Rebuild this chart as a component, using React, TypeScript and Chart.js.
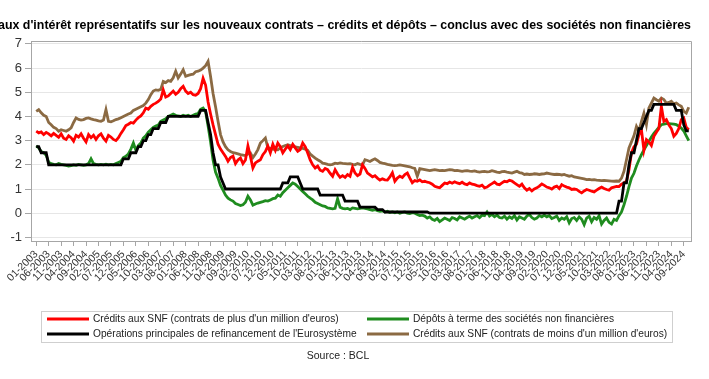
import { useEffect, useRef } from 'react';
import { Chart, registerables } from 'chart.js';

Chart.register(...registerables);

const titleText =
  "Taux d'intérêt représentatifs sur les nouveaux contrats – crédits et dépôts – conclus avec des sociétés non financières";
const sourceText = 'Source : BCL';

// monthly categories 01-2003 .. 11-2024
const months: string[] = [];
for (let y = 2003; y <= 2024; y++) {
  for (let m = 1; m <= 12; m++) {
    if (y === 2024 && m > 11) break;
    months.push(`${m < 10 ? '0' + m : m}-${y}`);
  }
}

const xTickLabels = [
  '01-2003', '06-2003', '11-2003', '04-2004', '09-2004', '02-2005', '07-2005', '12-2005',
  '05-2006', '10-2006', '03-2007', '08-2007', '01-2008', '06-2008', '11-2008', '04-2009',
  '09-2009', '02-2010', '07-2010', '12-2010', '05-2011', '10-2011', '03-2012', '08-2012',
  '01-2013', '06-2013', '11-2013', '04-2014', '09-2014', '02-2015', '07-2015', '12-2015',
  '05-2016', '10-2016', '03-2017', '08-2017', '01-2018', '06-2018', '11-2018', '04-2019',
  '09-2019', '02-2020', '07-2020', '12-2020', '05-2021', '10-2021', '03-2022', '08-2022',
  '01-2023', '06-2023', '11-2023', '04-2024', '09-2024',
];
const yTickValues = [-1, 0, 1, 2, 3, 4, 5, 6, 7];

const seriesLabels = [
  "Crédits aux SNF (contrats de plus d'un million d'euros)",
  'Dépôts à terme des sociétés non financières',
  "Opérations principales de refinancement de l'Eurosystème",
  "Crédits aux SNF (contrats de moins d'un million d'euros)",
];

const creditsPlus1M = [
  3.39, 3.32, 3.36, 3.25, 3.34, 3.28, 3.20, 3.30, 3.22, 3.14, 3.28, 3.10,
  3.05, 3.20, 3.12, 2.98, 3.22, 3.15, 3.28, 3.10, 2.95, 3.25, 3.12, 3.22,
  3.05, 3.20, 3.28, 3.10, 2.98, 3.22, 3.15, 3.05, 3.00, 3.12, 3.30, 3.45,
  3.62, 3.68, 3.75, 3.72, 3.85, 3.95, 4.02, 4.15, 4.35, 4.30, 4.42, 4.50,
  4.55, 4.62, 4.72, 5.10, 4.80, 4.85, 4.95, 5.05, 4.92, 5.00, 5.15, 5.25,
  5.05, 4.95, 5.00, 4.90, 4.88, 4.95, 5.15, 5.58, 5.30, 4.60, 4.10, 3.65,
  3.25, 2.85, 2.65, 2.50, 2.35, 2.15, 2.30, 2.36, 2.05, 2.20, 2.28, 2.05,
  2.20, 2.78, 2.35, 1.87, 2.08, 2.15, 2.21, 2.42, 2.55, 2.78, 2.50, 2.85,
  2.60, 2.90, 2.75, 2.50, 2.65, 2.78, 2.63, 2.85, 2.70, 2.56, 2.63, 2.90,
  2.75, 2.49, 2.20, 2.00, 1.87, 1.95, 1.78, 1.73, 1.85, 1.80, 1.65, 1.53,
  1.80, 1.62, 1.48, 1.55, 1.48, 1.60, 1.53, 1.90, 1.66, 1.55, 1.62, 2.00,
  1.85, 1.66, 1.58, 1.50, 1.55, 1.45, 1.37, 1.42, 1.38, 1.37, 1.50, 1.67,
  1.32, 1.45, 1.53, 1.48, 1.60, 1.66, 1.45, 1.26, 1.35, 1.32, 1.38, 1.30,
  1.32, 1.28, 1.26, 1.20, 1.11, 1.08, 1.05, 1.15, 1.25, 1.22, 1.29, 1.24,
  1.30, 1.25, 1.22, 1.28, 1.21, 1.18, 1.25, 1.20, 1.18, 1.14, 1.11, 1.16,
  1.05, 1.08, 1.16, 1.22, 1.29, 1.20, 1.18, 1.25, 1.32, 1.30, 1.36, 1.33,
  1.25, 1.18, 1.11, 1.20, 1.05, 0.95, 1.02, 0.92, 1.00, 1.05, 1.12, 1.21,
  1.15, 1.08, 1.05, 1.00, 1.08, 1.12, 1.02, 1.18, 1.12, 1.08, 1.05, 0.98,
  1.00, 0.98, 0.90, 0.84, 0.92, 0.98, 0.95, 0.91, 0.88, 0.95, 1.02, 1.08,
  1.02, 0.98, 0.95, 1.05, 1.08, 1.11, 1.10, 1.20, 1.25, 1.32, 1.80, 2.50,
  2.75, 2.85, 3.25, 3.45, 2.60, 3.04, 2.95, 2.80, 3.18, 3.35, 3.50, 4.42,
  3.80, 3.87, 3.65, 3.50, 3.18, 3.30, 3.50, 3.87, 3.94, 3.55, 3.45,
];

const depotsTerme = [
  2.78, 2.70, 2.55, 2.50, 2.40, 2.10, 2.05, 2.02, 2.00, 2.05, 2.02, 2.00,
  1.98, 1.95, 1.97, 2.00, 1.98, 2.02, 2.00, 1.98, 2.00, 2.05, 2.25, 2.05,
  2.02, 2.00, 2.02, 2.00, 2.03, 2.00, 2.02, 2.00, 2.05, 2.10, 2.15, 2.30,
  2.35, 2.45, 2.65, 2.90, 2.60, 2.80, 2.90, 3.10, 3.20, 3.35, 3.45, 3.55,
  3.60, 3.65, 3.80, 3.85, 3.90, 4.00, 4.05, 4.10, 4.05, 4.02, 4.00, 4.05,
  4.02, 4.05, 4.00, 4.05, 4.10, 4.12, 4.30, 4.35, 4.20, 3.60, 2.95, 2.20,
  1.70, 1.45, 1.15, 0.95, 0.75, 0.62, 0.55, 0.50, 0.40, 0.36, 0.32, 0.35,
  0.45, 0.70, 0.55, 0.33, 0.38, 0.42, 0.45, 0.48, 0.52, 0.50, 0.55, 0.60,
  0.62, 0.75, 0.70, 0.85, 0.95, 1.05, 1.15, 1.25, 1.20, 1.10, 1.00, 0.90,
  0.80, 0.70, 0.62, 0.55, 0.45, 0.40, 0.35, 0.30, 0.28, 0.22, 0.20, 0.18,
  0.20, 0.60, 0.25, 0.20, 0.18, 0.20, 0.15, 0.22, 0.20, 0.18, 0.20, 0.22,
  0.20, 0.18, 0.15, 0.12, 0.15, 0.10, 0.08, 0.10, 0.05, 0.08, 0.03, 0.05,
  0.02, 0.05, 0.00, 0.03, 0.05, 0.00, -0.02, 0.02, 0.00, -0.05, -0.10, -0.08,
  -0.12, -0.20, -0.15, -0.25, -0.30, -0.22, -0.35, -0.28, -0.20, -0.25, -0.30, -0.18,
  -0.22, -0.28, -0.15, -0.20, -0.25, -0.18, -0.12, -0.20, -0.15, -0.10, -0.18, -0.08,
  -0.10, 0.05, -0.12, -0.05, -0.15, -0.08, -0.18, -0.20, -0.12, -0.25, -0.15, -0.22,
  -0.10, -0.28, -0.15, -0.20, -0.25, -0.12, -0.05, -0.18, -0.25, -0.20, -0.10, -0.15,
  -0.08, -0.15, -0.10, -0.22, -0.18, -0.12, -0.30, -0.20, -0.25, -0.15, -0.40, -0.22,
  -0.18, -0.30, -0.15, -0.25, -0.47, -0.20, -0.12, -0.35, -0.18, -0.25, -0.10, -0.45,
  -0.30, -0.20, -0.38, -0.45, -0.25, -0.30, -0.10, 0.05, 0.35, 0.70, 1.10, 1.45,
  1.65, 1.95, 2.20, 2.42, 2.62, 2.80, 2.97, 3.15, 3.30, 3.42, 3.55, 3.66,
  3.68, 3.70, 3.70, 3.69, 3.68, 3.66, 3.60, 3.52, 3.40, 3.20, 3.00,
];

const tauxRefi = [
  2.75, 2.75, 2.50, 2.50, 2.50, 2.00, 2.00, 2.00, 2.00, 2.00, 2.00, 2.00,
  2.00, 2.00, 2.00, 2.00, 2.00, 2.00, 2.00, 2.00, 2.00, 2.00, 2.00, 2.00,
  2.00, 2.00, 2.00, 2.00, 2.00, 2.00, 2.00, 2.00, 2.00, 2.00, 2.00, 2.25,
  2.25, 2.25, 2.50, 2.50, 2.50, 2.75, 2.75, 3.00, 3.00, 3.25, 3.25, 3.50,
  3.50, 3.50, 3.75, 3.75, 3.75, 4.00, 4.00, 4.00, 4.00, 4.00, 4.00, 4.00,
  4.00, 4.00, 4.00, 4.00, 4.00, 4.00, 4.25, 4.25, 4.25, 3.75, 3.25, 2.50,
  2.00, 2.00, 1.50, 1.25, 1.00, 1.00, 1.00, 1.00, 1.00, 1.00, 1.00, 1.00,
  1.00, 1.00, 1.00, 1.00, 1.00, 1.00, 1.00, 1.00, 1.00, 1.00, 1.00, 1.00,
  1.00, 1.00, 1.00, 1.25, 1.25, 1.25, 1.50, 1.50, 1.50, 1.50, 1.25, 1.00,
  1.00, 1.00, 1.00, 1.00, 1.00, 1.00, 0.75, 0.75, 0.75, 0.75, 0.75, 0.75,
  0.75, 0.75, 0.75, 0.75, 0.50, 0.50, 0.50, 0.50, 0.50, 0.50, 0.25, 0.25,
  0.25, 0.25, 0.25, 0.25, 0.25, 0.15, 0.15, 0.15, 0.05, 0.05, 0.05, 0.05,
  0.05, 0.05, 0.05, 0.05, 0.05, 0.05, 0.05, 0.05, 0.05, 0.05, 0.05, 0.05,
  0.05, 0.05, 0.00, 0.00, 0.00, 0.00, 0.00, 0.00, 0.00, 0.00, 0.00, 0.00,
  0.00, 0.00, 0.00, 0.00, 0.00, 0.00, 0.00, 0.00, 0.00, 0.00, 0.00, 0.00,
  0.00, 0.00, 0.00, 0.00, 0.00, 0.00, 0.00, 0.00, 0.00, 0.00, 0.00, 0.00,
  0.00, 0.00, 0.00, 0.00, 0.00, 0.00, 0.00, 0.00, 0.00, 0.00, 0.00, 0.00,
  0.00, 0.00, 0.00, 0.00, 0.00, 0.00, 0.00, 0.00, 0.00, 0.00, 0.00, 0.00,
  0.00, 0.00, 0.00, 0.00, 0.00, 0.00, 0.00, 0.00, 0.00, 0.00, 0.00, 0.00,
  0.00, 0.00, 0.00, 0.00, 0.00, 0.00, 0.50, 0.50, 1.25, 1.25, 2.00, 2.50,
  2.50, 3.00, 3.50, 3.50, 3.75, 4.00, 4.25, 4.25, 4.50, 4.50, 4.50, 4.50,
  4.50, 4.50, 4.50, 4.50, 4.50, 4.25, 4.25, 4.25, 3.65, 3.40, 3.40,
];

const creditsMoins1M = [
  4.21, 4.28, 4.15, 4.05, 4.00, 3.75, 3.66, 3.55, 3.50, 3.39, 3.45, 3.42,
  3.39, 3.45, 3.53, 3.75, 3.94, 3.88, 3.85, 3.87, 3.92, 3.94, 3.90, 3.87,
  3.85, 3.82, 3.80, 3.85, 4.28, 3.80, 3.78, 3.82, 3.87, 3.90, 3.95, 4.00,
  4.05, 4.10, 4.14, 4.25, 4.30, 4.35, 4.40, 4.45, 4.55, 4.70, 4.90, 5.05,
  5.10, 5.08, 5.12, 5.45, 5.40, 5.48, 5.45, 5.60, 5.87, 5.59, 5.75, 5.93,
  5.66, 5.70, 5.73, 5.75, 5.85, 5.87, 5.92, 6.00, 6.10, 6.28, 5.65, 4.95,
  4.40, 3.80, 3.25, 2.95, 2.75, 2.62, 2.55, 2.50, 2.48, 2.45, 2.42, 2.40,
  2.38, 2.45, 2.49, 2.30, 2.45, 2.63, 2.90, 3.00, 3.11, 2.70, 2.68, 2.65,
  2.63, 2.62, 2.70, 2.76, 2.80, 2.83, 2.80, 2.76, 2.74, 2.72, 2.70, 2.68,
  2.65, 2.60, 2.45, 2.36, 2.28, 2.21, 2.15, 2.07, 2.05, 2.02, 2.00, 2.02,
  2.07, 2.05, 2.08, 2.06, 2.05, 2.04, 2.05, 2.02, 2.00, 2.05, 2.02, 2.00,
  2.21, 2.18, 2.14, 2.20, 2.25, 2.18, 2.10, 2.07, 2.05, 2.02, 2.00, 1.98,
  1.97, 1.98, 2.00, 1.98, 1.96, 1.94, 1.92, 1.88, 1.85, 1.53, 1.84, 1.82,
  1.80, 1.78, 1.76, 1.78, 1.80, 1.78, 1.76, 1.77, 1.76, 1.78, 1.80, 1.79,
  1.76, 1.77, 1.75, 1.73, 1.75, 1.76, 1.74, 1.73, 1.75, 1.72, 1.70, 1.72,
  1.73, 1.71, 1.72, 1.76, 1.73, 1.70, 1.68, 1.72, 1.73, 1.70, 1.68, 1.66,
  1.70, 1.73, 1.68, 1.66, 1.60, 1.62, 1.60, 1.61, 1.63, 1.62, 1.60, 1.62,
  1.63, 1.66, 1.64, 1.62, 1.60, 1.61, 1.60, 1.58, 1.60, 1.56, 1.53, 1.55,
  1.50, 1.48, 1.46, 1.44, 1.42, 1.39, 1.40, 1.38, 1.39, 1.37, 1.36, 1.35,
  1.36, 1.35, 1.34, 1.33, 1.32, 1.33, 1.32, 1.45, 1.73, 2.21, 2.70, 2.95,
  3.20, 3.59, 3.39, 3.80, 4.14, 3.66, 4.35, 4.55, 4.76, 4.69, 4.63, 4.76,
  4.70, 4.55, 4.58, 4.63, 4.52, 4.55, 4.48, 4.42, 4.21, 4.14, 4.38,
];

const seriesColors = ['#ff0000', '#1f8c1f', '#000000', '#8b6a43'];
const seriesValues = [creditsPlus1M, depotsTerme, tauxRefi, creditsMoins1M];
const drawOrder = [1, 2, 0, 3];

const FONT = "'Liberation Sans', Arial, sans-serif";

const framePlugin = {
  id: 'frame',
  afterDatasetsDraw(chart: any) {
    const { ctx, chartArea } = chart;
    ctx.save();
    ctx.strokeStyle = '#a6a6a6';
    ctx.lineWidth = 1;
    ctx.beginPath();
    ctx.moveTo(chartArea.left, chartArea.top + 0.5);
    ctx.lineTo(chartArea.right + 0.5, chartArea.top + 0.5);
    ctx.lineTo(chartArea.right + 0.5, chartArea.bottom);
    ctx.stroke();
    ctx.restore();
  },
};

// title drawn without width squeezing so it overflows on the left like the original
const titlePlugin = {
  id: 'wideTitle',
  afterDraw(chart: any) {
    const ctx = chart.ctx;
    ctx.save();
    ctx.fillStyle = '#000';
    ctx.font = `bold 12.4px ${FONT}`;
    ctx.textAlign = 'right';
    ctx.textBaseline = 'middle';
    ctx.fillText(titleText, chart.chartArea.right, 26);
    ctx.restore();
  },
};

const legendPlugin = {
  id: 'boxLegend',
  afterDraw(chart: any) {
    const ctx = chart.ctx;
    ctx.save();
    ctx.strokeStyle = '#cfcfcf';
    ctx.lineWidth = 1;
    ctx.strokeRect(41.5, 311.5, 631, 31);
    const cols = [47, 367];
    const rows = [319, 334];
    chart.data.datasets.forEach((d: any, k: number) => {
      const cx = cols[k % 2];
      const cy = rows[Math.floor(k / 2)];
      ctx.strokeStyle = d.borderColor;
      ctx.lineWidth = 3;
      ctx.beginPath();
      ctx.moveTo(cx, cy);
      ctx.lineTo(cx + 42, cy);
      ctx.stroke();
      ctx.fillStyle = '#222';
      ctx.font = `10.2px ${FONT}`;
      ctx.textBaseline = 'middle';
      ctx.textAlign = 'left';
      ctx.fillText(d.label, cx + 46, cy);
    });
    ctx.fillStyle = '#222';
    ctx.font = `10.5px ${FONT}`;
    ctx.textAlign = 'center';
    ctx.textBaseline = 'middle';
    ctx.fillText(sourceText, 338, 356);
    ctx.restore();
  },
};

export default function App() {
  const ref = useRef<HTMLCanvasElement | null>(null);

  useEffect(() => {
    if (!ref.current) return;
    const xTickPositions = xTickLabels.map((l) => months.indexOf(l));
    const chart = new Chart(ref.current, {
      type: 'line',
      data: {
        datasets: seriesValues.map((vals, k) => ({
          label: seriesLabels[k],
          data: vals.map((v, i) => ({ x: i, y: v })),
          borderColor: seriesColors[k],
          backgroundColor: seriesColors[k],
          borderWidth: 2.8,
          pointRadius: 0,
          tension: 0,
          fill: false,
          order: drawOrder[k],
        })),
      },
      options: {
        animation: false,
        responsive: false,
        devicePixelRatio: 1,
        layout: { padding: { left: 0, right: 18, top: 41, bottom: 0 } },
        plugins: {
          legend: { display: false },
          tooltip: { enabled: false },
          title: { display: false },
        },
        scales: {
          x: {
            type: 'linear',
            min: -2.1,
            max: 262.9,
            afterFit: (s: any) => {
              s.height = 138;
            },
            afterBuildTicks: (s: any) => {
              s.ticks = xTickPositions.map((v) => ({ value: v }));
            },
            ticks: {
              autoSkip: false,
              minRotation: 45,
              maxRotation: 45,
              padding: 2,
              color: '#333',
              font: { family: FONT, size: 10.5 },
              callback: (value: any) => {
                const idx = xTickPositions.indexOf(Number(value));
                return idx >= 0 ? xTickLabels[idx] : '';
              },
            },
            grid: { drawOnChartArea: false, drawTicks: true, tickLength: 5, tickColor: '#a6a6a6' },
            border: { display: true, color: '#a6a6a6' },
          },
          y: {
            type: 'linear',
            min: -1.15,
            max: 7.12,
            afterFit: (s: any) => {
              s.width = 31;
            },
            afterBuildTicks: (s: any) => {
              s.ticks = yTickValues.map((v) => ({ value: v }));
            },
            ticks: {
              color: '#333',
              padding: 3,
              font: { family: FONT, size: 13 },
            },
            grid: { color: '#e6e6e6', tickLength: 6, tickColor: '#a6a6a6' },
            border: { display: true, color: '#a6a6a6' },
          },
        },
      },
      plugins: [framePlugin, titlePlugin, legendPlugin],
    });
    return () => chart.destroy();
  }, []);

  return (
    <div style={{ position: 'absolute', left: 0, top: 0, width: 709, height: 379, background: '#fff' }}>
      <canvas ref={ref} width={709} height={379} style={{ display: 'block', width: 709, height: 379 }} />
    </div>
  );
}
